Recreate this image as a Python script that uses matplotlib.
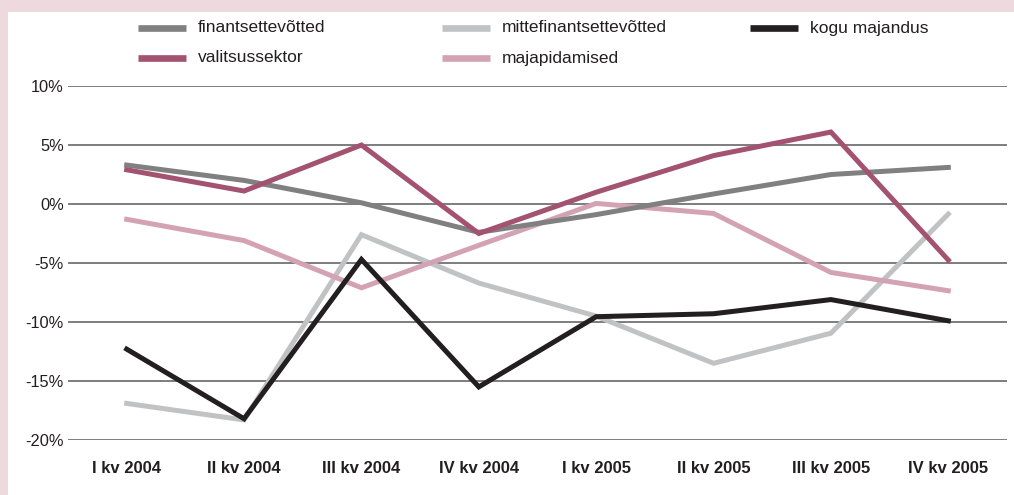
import matplotlib
matplotlib.use("Agg")
import matplotlib.pyplot as plt
from matplotlib.lines import Line2D
from matplotlib.patches import Rectangle

plt.rcParams['font.family'] = ['Liberation Sans', 'DejaVu Sans']

categories = ["I kv 2004", "II kv 2004", "III kv 2004", "IV kv 2004",
              "I kv 2005", "II kv 2005", "III kv 2005", "IV kv 2005"]
finantsettevotted = [3.3, 2.0, 0.1, -2.4, -0.9, 0.85, 2.5, 3.1]
mittefinantsettevotted = [-16.9, -18.3, -2.6, -6.7, -9.5, -13.5, -10.95, -0.85]
kogu_majandus = [-12.3, -18.2, -4.7, -15.5, -9.55, -9.3, -8.1, -9.9]
valitsussektor = [2.9, 1.1, 5.0, -2.5, 1.0, 4.1, 6.1, -4.75]
majapidamised = [-1.3, -3.1, -7.1, -3.5, 0.05, -0.8, -5.8, -7.35]
yticks = [10, 5, 0, -5, -10, -15, -20]
ytick_labels = ["10%", "5%", "0%", "-5%", "-10%", "-15%", "-20%"]

series = [
    ("finantsettevõtted", finantsettevotted, "#808080"),
    ("mittefinantsettevõtted", mittefinantsettevotted, "#c1c2c4"),
    ("kogu majandus", kogu_majandus, "#231f20"),
    ("valitsussektor", valitsussektor, "#a3536f"),
    ("majapidamised", majapidamised, "#d4a3b3"),
]
draw_order = [1, 4, 0, 3, 2]

W, H = 1014, 495
fig = plt.figure(figsize=(W / 100, H / 100), dpi=100)
fig.patch.set_facecolor("#eed9df")
fig.add_artist(Rectangle((8 / W, 0), 1 - 8 / W, 1 - 12 / H, transform=fig.transFigure,
                         facecolor="white", edgecolor="none", zorder=0))

ax = fig.add_axes([68 / W, 1 - 440 / H, (1007 - 68) / W, (440 - 86) / H])
ax.set_facecolor("none")
x = list(range(len(categories)))
for i in draw_order:
    name, vals, col = series[i]
    ax.plot(x, vals, color=col, lw=3.6, solid_joinstyle="miter", zorder=3)

ax.set_xlim(-0.5, len(categories) - 0.5)
ax.set_ylim(-20, 10)
ax.set_yticks(yticks)
ax.set_yticklabels(ytick_labels, fontsize=11.8, color="#231f20")
ax.set_xticks(x)
ax.set_xticklabels(categories, fontsize=12, fontweight="bold", color="#231f20")
ax.tick_params(axis="both", length=0)
ax.tick_params(axis="y", pad=3)
ax.tick_params(axis="x", pad=15)
for v in yticks:
    ax.axhline(v, color="#5a5a5a", lw=1.1, zorder=1)
for s in ax.spines.values():
    s.set_visible(False)

# legend (manual placement, 3 columns)
leg_items = [
    (138, 28, 0), (442, 28, 1), (750, 28, 2),
    (138, 58, 3), (442, 58, 4),
]
for px, py, idx in leg_items:
    name, vals, col = series[idx]
    fig.add_artist(Line2D([px / W, (px + 48) / W], [1 - py / H, 1 - py / H],
                          transform=fig.transFigure, color=col, lw=4.8,
                          solid_capstyle="butt"))
    fig.text((px + 60) / W, 1 - py / H, name, fontsize=12.5, color="#231f20",
             va="center", ha="left")

fig.savefig("out.png", dpi=100, facecolor=fig.get_facecolor())
